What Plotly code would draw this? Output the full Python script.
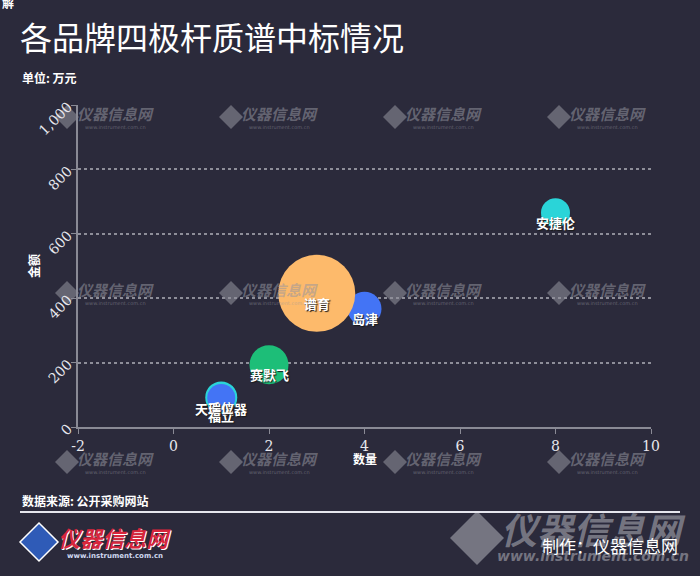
import plotly.graph_objects as go

# ---- data ----
brands = ["谱育", "岛津", "赛默飞", "安捷伦", "禾信", "天瑞仪器", "福立"]
counts = [3, 4, 2, 8, 1, 1, 1]
amounts = [415, 367, 193, 665, 92, 90, 68]
bubble = [77, 34, 39, 29, 32, 28, 18]
colors = ["#FDBA6B", "#4374F5", "#1DBE78", "#2AD4D8", "#2AD4D8", "#4374F5", "#4374F5"]
x_ticks = [-2, 0, 2, 4, 6, 8, 10]
x_ticktext = ["-2", "0", "2", "4", "6", "8", "10"]
y_ticks = [0, 200, 400, 600, 800, 1000]
y_ticktext = ["0", "200", "400", "600", "800", "1,000"]

BG = "#2b2a3b"
CJK = "Noto Sans CJK SC"
L, R, T, B = 78, 651, 105, 427
WM = "rgba(150,150,160,0.55)"


def px(x):
    return (x - L) / (R - L)


def py(y):
    return (B - y) / (B - T)


def note(x, y, text, size, color="white", weight="normal", family=CJK, xanchor="center", **kw):
    return dict(x=px(x), y=py(y), xref="paper", yref="paper", text=text, showarrow=False,
                xanchor=xanchor, yanchor="middle",
                font=dict(family=family, size=size, color=color, weight=weight, **kw))


def diamond(cx, cy, h, fill, line=None):
    path = "M {} {} L {} {} L {} {} L {} {} Z".format(
        px(cx), py(cy - h), px(cx + h), py(cy), px(cx), py(cy + h), px(cx - h), py(cy))
    return dict(type="path", path=path, xref="paper", yref="paper", fillcolor=fill,
                line=line or dict(width=0), layer="below")


fig = go.Figure()

order = [6, 4, 5, 2, 1, 0, 3]
for i in order:
    fig.add_trace(go.Scatter(
        x=[counts[i]], y=[amounts[i]], mode="markers",
        marker=dict(size=bubble[i], sizemode="diameter", color=colors[i],
                    line=dict(width=0), opacity=1),
        hoverinfo="text", text=[brands[i]], showlegend=False,
    ))

annotations = []
shapes = []

# watermarks
wm_cols = [115, 279, 443, 607]
wm_rows = [113, 289, 458]
for ry in wm_rows:
    for cx in wm_cols:
        annotations.append(note(cx, ry, "<i>仪器信息网</i>", 15, WM, "bold"))
        annotations.append(note(cx, ry + 14, "www.instrument.com.cn", 5, WM, family="DejaVu Sans"))
        shapes.append(diamond(cx - 48, ry + 4, 12, WM))

for i in range(len(brands)):
    annotations.append(dict(
        x=counts[i], y=amounts[i], xref="x", yref="y", text=brands[i],
        showarrow=False, yshift=-10, xanchor="center", yanchor="middle",
        font=dict(family=CJK, size=13, color="white", weight="bold",
                  shadow="1px 1px 1px #1a1a1a"),
    ))

# big bottom-right watermark
shapes.append(diamond(477, 538, 27, "rgba(150,150,160,0.7)"))
annotations.append(note(593, 528, "<i>仪器信息网</i>", 36, "rgba(150,150,160,0.7)", "bold"))
annotations.append(note(593, 556, "<i>www.instrument.com.cn</i>", 14, "rgba(150,150,160,0.7)", "bold",
                        family="DejaVu Sans"))
annotations.append(note(680, 545, "制作：仪器信息网", 17, "white", xanchor="right"))

# bottom-left logo
shapes.append(diamond(39, 542, 19, "#2f5bb7", dict(width=1.5, color="white")))
annotations.append(note(114, 537, "<i>仪器信息网</i>", 22, "#d8263c", "bold", shadow="1px 1px 0px white"))
annotations.append(note(115, 556, "www.instrument.com.cn", 7, "#cfd8f0", "bold", family="DejaVu Sans"))

# texts
annotations += [
    note(20, 77, "单位: 万元", 12, weight="bold", xanchor="left"),
    note(20, 500, "数据来源: 公开采购网站", 12, weight="bold", xanchor="left"),
    note(365, 458, "数量", 12, weight="bold"),
    dict(note(33, 266, "金额", 12, weight="bold"), textangle=-90),
    note(8, 3, "解", 12, weight="bold"),
]

shapes.append(dict(type="line", xref="paper", yref="paper", x0=px(20), x1=px(680),
                   y0=py(512), y1=py(512), line=dict(color="#e6e6ee", width=2)))

fig.update_layout(
    width=700, height=576,
    margin=dict(l=L, r=700 - R, t=T, b=576 - B),
    paper_bgcolor=BG, plot_bgcolor=BG,
    title=dict(text="各品牌四极杆质谱中标情况", x=20 / 700, xanchor="left",
               y=1 - 39 / 576, yanchor="middle", yref="container",
               font=dict(family=CJK, size=32, color="white")),
    xaxis=dict(range=[-2, 10], tickvals=x_ticks, ticktext=x_ticktext, showgrid=False, zeroline=False,
               showline=True, linecolor="#8a8a95", linewidth=2,
               ticks="outside", ticklen=5, tickcolor="#8a8a95",
               tickfont=dict(family="DejaVu Serif", size=14, color="#e8e8ee")),
    yaxis=dict(range=[0, 1000], tickvals=y_ticks, ticktext=y_ticktext,
               tickangle=-45, showgrid=True, gridcolor="#8e8e99", griddash="3px,3px", gridwidth=2,
               zeroline=False, showline=True, linecolor="#8a8a95", linewidth=2,
               ticks="outside", ticklen=5, tickcolor="#8a8a95",
               tickfont=dict(family="DejaVu Serif", size=14, color="#e8e8ee")),
    annotations=annotations, shapes=shapes,
)

fig.write_html("out.html", config={"displayModeBar": False},
               post_script="document.body.style.margin='0';document.body.style.overflow='hidden';")
